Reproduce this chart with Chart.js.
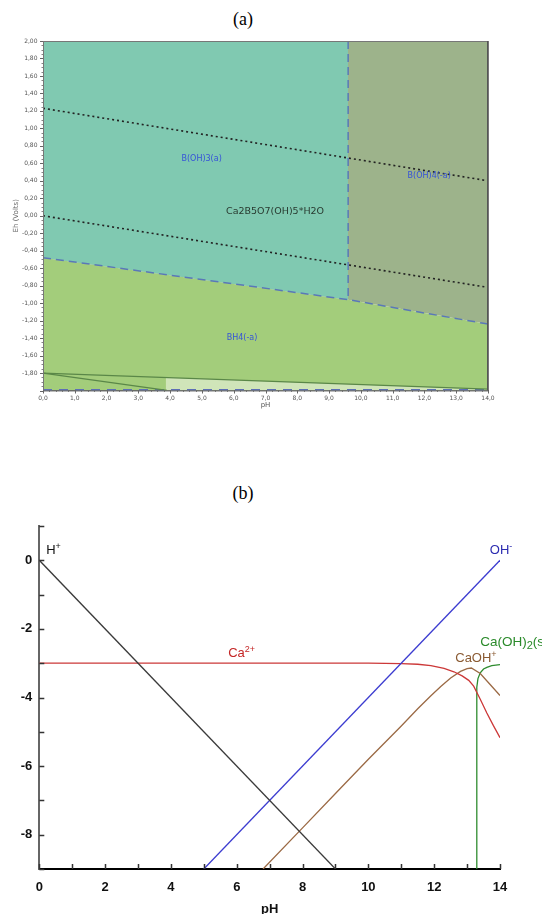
<!DOCTYPE html>
<html>
<head>
<meta charset="utf-8">
<title>Eh-pH and log C - pH diagrams</title>
<script src="https://cdn.jsdelivr.net/npm/chart.js@4.4.1/dist/chart.umd.min.js"></script>
<style>
    html, body { margin: 0; padding: 0; background: #fff; overflow: hidden; }
    body { width: 542px; height: 914px; position: relative; }
    .panel { position: absolute; left: 0; width: 542px; }
    .cap {
        position: absolute; left: 0; width: 486px; text-align: center;
        font: 18px "Liberation Serif", "Times New Roman", serif; color: #000;
    }
</style>
</head>
<body>
<div class="cap" style="top:9px">(a)</div>
<div class="panel" style="top:0;height:420px"><canvas id="chartA" width="542" height="420"></canvas></div>
<div class="cap" style="top:483px">(b)</div>
<div class="panel" style="top:474px;height:446px"><canvas id="chartB" width="542" height="446"></canvas></div>

<script>
// --- 1. Data: (a) Eh-pH diagram, boron / calcium system ---
const A_BOUND_PH = [0, 9.6, 14];          // lower edge of the borate fields
const A_BOUND_EH = [-0.48, -0.96, -1.24];
const A_ACID_PH = [0, 9.6];               // B(OH)3 field lower edge
const A_ACID_EH = [-0.48, -0.96];
const A_VERT_PH = [9.6, 9.6];             // B(OH)3 / B(OH)4- boundary
const A_VERT_EH = [2.0, -0.96];
const A_O2_PH = [0, 14];                  // water stability (upper)
const A_O2_EH = [1.23, 0.40];
const A_H2_PH = [0, 14];                  // water stability (lower)
const A_H2_EH = [0.0, -0.82];
const A_UPPER_PH = [0, 14];
const A_UPPER_EH = [-1.80, -1.985];
const A_LOWER_PH = [0, 3.9];
const A_LOWER_EH = [-1.80, -1.998];
const A_PALE_PH = [3.86, 14];
const A_PALE_EH = [-1.851, -1.985];
const A_BASE_PH = [0, 14];
const A_BASE_EH = [-1.995, -1.995];

const A_LABELS = ['B(OH)3(a)', 'B(OH)4(-a)', 'Ca2B5O7(OH)5*H2O', 'BH4(-a)'];
const A_LABEL_PH = [4.99, 12.15, 7.3, 6.26];
const A_LABEL_EH = [0.65, 0.46, 0.05, -1.40];
const A_LABEL_COLOR = ['#3553d8', '#3553d8', '#283a30', '#3553d8'];
const A_LABEL_SIZE = [8, 8, 9.5, 8];

// --- 2. Data: (b) log concentration vs pH ---
const H_PH = [0, 9];
const H_LOG = [0, -9];
const OH_PH = [5, 14];
const OH_LOG = [-9, 0];
const CA_PH = [0, 4, 8, 10, 11, 11.5, 11.9, 12.3, 12.6, 12.85, 13.05, 13.2, 13.4, 13.6, 13.8, 14];
const CA_LOG = [-3, -3, -3, -3, -3.01, -3.03, -3.07, -3.15, -3.25, -3.37, -3.5, -3.67, -4.05, -4.45, -4.82, -5.17];
const CAOH_PH = [6.8, 8, 9, 10, 11, 11.5, 11.9, 12.2, 12.5, 12.8, 13.0, 13.13, 13.4, 13.7, 14];
const CAOH_LOG = [-9, -7.8, -6.8, -5.8, -4.83, -4.33, -3.95, -3.68, -3.43, -3.24, -3.16, -3.14, -3.3, -3.62, -3.94];
const CAOH2_PH = [13.29, 13.29, 13.3, 13.33, 13.4, 13.5, 13.6, 13.75, 14];
const CAOH2_LOG = [-9, -4.2, -3.7, -3.45, -3.28, -3.17, -3.12, -3.07, -3.04];

// '^' = rest is superscript, '_' = next char is subscript
const B_LABELS = ['H^+', 'OH^-', 'Ca^2+', 'CaOH^+', 'Ca(OH)_2(s)'];
const B_LABEL_PH = [0.21, 13.69, 5.74, 12.64, 13.4];
const B_LABEL_LOG = [0.29, 0.29, -2.72, -2.86, -2.38];
const B_LABEL_COLOR = ['#111111', '#2b2bb0', '#c42626', '#8a5a32', '#2a8a2a'];
const B_LABEL_SIZE = [13, 13, 13, 13, 13.5];

const pts = (xs, ys) => xs.map((x, i) => ({ x: x, y: ys[i] }));

// --- 3. Plugins ---

// draws rich text (super/subscript) at data coordinates
function drawRich(ctx, text, px, py, size, family, color, align) {
    const parts = [];
    let i = 0, mode = 'n', buf = '';
    while (i < text.length) {
        const c = text[i];
        if (c === '^') { if (buf) parts.push([buf, mode]); buf = ''; mode = 'sup'; }
        else if (c === '_') {
            if (buf) parts.push([buf, mode]); buf = '';
            parts.push([text[i + 1], 'sub']); i++;
        } else buf += c;
        i++;
    }
    if (buf) parts.push([buf, mode]);

    const fontFor = m => (m === 'n' ? size : m === 'sub' ? Math.round(size * 0.8) : Math.round(size * 0.7)) + 'px ' + family;
    let total = 0;
    parts.forEach(p => { ctx.font = fontFor(p[1]); total += ctx.measureText(p[0]).width; });
    let x = align === 'center' ? px - total / 2 : px;
    ctx.fillStyle = color;
    ctx.textBaseline = 'middle';
    ctx.textAlign = 'left';
    parts.forEach(p => {
        ctx.font = fontFor(p[1]);
        let dy = 0;
        if (p[1] === 'sup') dy = -size * 0.3;
        if (p[1] === 'sub') dy = size * 0.3;
        ctx.fillText(p[0], x, py + dy);
        x += ctx.measureText(p[0]).width;
    });
}

const textLabels = {
    id: 'textLabels',
    afterDatasetsDraw(chart, args, opts) {
        const { ctx, scales } = chart;
        ctx.save();
        opts.items.forEach(it => {
            const px = scales.x.getPixelForValue(it.x);
            const py = scales.y.getPixelForValue(it.y);
            drawRich(ctx, it.text, px, py, it.size, it.family, it.color, it.align);
        });
        ctx.restore();
    }
};

// tick marks (inward or outward) and optional plot frame
const tickMarks = {
    id: 'tickMarks',
    afterDraw(chart, args, opts) {
        const { ctx, chartArea } = chart;
        ctx.save();
        if (opts.frame) {
            ctx.strokeStyle = opts.frame;
            ctx.lineWidth = 1;
            ctx.strokeRect(chartArea.left + 0.5, chartArea.top + 0.5,
                chartArea.right - chartArea.left - 1, chartArea.bottom - chartArea.top);
            ctx.strokeStyle = '#4a4a4a';
            ctx.lineWidth = 1.5;
            ctx.beginPath();
            ctx.moveTo(chartArea.right, chartArea.top);
            ctx.lineTo(chartArea.right, chartArea.bottom);
            ctx.stroke();
        }
        ctx.strokeStyle = opts.color;
        opts.marks.forEach(m => {
            const scale = chart.scales[m.axis];
            ctx.lineWidth = m.width;
            ctx.beginPath();
            for (let k = 0; ; k++) {
                const v = scale.min + k * m.step;
                if (v > scale.max + 1e-9) break;
                const p = Math.round(scale.getPixelForValue(v)) + 0.5;
                if (m.axis === 'x') {
                    ctx.moveTo(p, chartArea.bottom);
                    ctx.lineTo(p, chartArea.bottom + m.len);
                } else {
                    ctx.moveTo(chartArea.left, p);
                    ctx.lineTo(chartArea.left - m.len, p);
                }
            }
            ctx.stroke();
        });
        ctx.restore();
    }
};

// --- 4. Chart (a) ---
function lineSet(xs, ys, color, width, dash) {
    return {
        data: pts(xs, ys), borderColor: color, borderWidth: width,
        borderDash: dash || [], pointRadius: 0, fill: false, tension: 0
    };
}
function fillSet(xs, ys, color, target) {
    return {
        data: pts(xs, ys), borderWidth: 0, borderColor: 'transparent',
        backgroundColor: color, pointRadius: 0, fill: target, tension: 0
    };
}

const smallFont = { family: '"DejaVu Sans", Verdana, sans-serif', size: 6 };

new Chart(document.getElementById('chartA'), {
    type: 'line',
    data: {
        datasets: [
            fillSet(A_ACID_PH, A_ACID_EH, '#80c9b1', 'end'),
            fillSet(A_BOUND_PH, A_BOUND_EH, '#9db38b', 'end'),
            fillSet(A_PALE_PH, A_PALE_EH, '#d0e5b9', 'start'),
            fillSet(A_BOUND_PH, A_BOUND_EH, '#a3cd7b', 'start'),
            lineSet(A_BOUND_PH, A_BOUND_EH, '#5a78b8', 1.5, [8, 5]),
            lineSet(A_VERT_PH, A_VERT_EH, '#5a78b8', 1.5, [8, 5]),
            lineSet(A_O2_PH, A_O2_EH, '#222', 1.6, [2, 3]),
            lineSet(A_H2_PH, A_H2_EH, '#222', 1.6, [2, 3]),
            lineSet(A_UPPER_PH, A_UPPER_EH, '#5a8748', 1.2),
            lineSet(A_LOWER_PH, A_LOWER_EH, '#5a8748', 1.2),
            lineSet(A_BASE_PH, A_BASE_EH, '#5d6fb5', 2, [9, 7])
        ]
    },
    options: {
        responsive: false,
        animation: false,
        layout: { padding: { left: 0, right: 54, top: 41, bottom: 10.8 } },
        scales: {
            x: {
                type: 'linear', min: 0, max: 14,
                grid: { display: false, drawTicks: false },
                border: { display: true, color: '#555', width: 1 },
                ticks: {
                    stepSize: 1, autoSkip: false, maxRotation: 0, padding: 4,
                    color: '#555', font: smallFont,
                    callback: v => v.toFixed(1).replace('.', ',')
                },
                title: { display: true, text: 'pH', color: '#555', font: { family: smallFont.family, size: 7 }, padding: 0 },
                afterFit: s => { s.height = 18.7; }
            },
            y: {
                min: -2, max: 2,
                grid: { display: false, drawTicks: false },
                border: { display: true, color: '#888', width: 1 },
                ticks: {
                    stepSize: 0.2, autoSkip: false, padding: 5.5,
                    color: '#555', font: smallFont,
                    callback: v => {
                        if (v < -1.99) return '';
                        if (Math.abs(v) < 1e-9) return '0,00';
                        return v.toFixed(2).replace('.', ',');
                    }
                },
                title: { display: true, text: 'Eh (Volts)', color: '#666', font: { family: smallFont.family, size: 7 }, padding: { top: 11.8, bottom: 0 } },
                afterFit: s => { s.width = 43; }
            }
        },
        plugins: {
            legend: { display: false },
            tooltip: { enabled: false },
            filler: { drawTime: 'beforeDatasetsDraw' },
            tickMarks: {
                color: '#666', frame: '#777',
                marks: [
                    { axis: 'y', step: 0.2, len: 3, width: 1 },
                    { axis: 'y', step: 0.05, len: 1.5, width: 0.8 },
                    { axis: 'x', step: 1, len: 3, width: 1 },
                    { axis: 'x', step: 0.2, len: 1.5, width: 0.8 }
                ]
            },
            textLabels: {
                items: A_LABELS.map((t, i) => ({
                    text: t, x: A_LABEL_PH[i], y: A_LABEL_EH[i], color: A_LABEL_COLOR[i],
                    size: A_LABEL_SIZE[i], family: '"DejaVu Sans", Verdana, sans-serif', align: 'center'
                }))
            }
        }
    },
    plugins: [tickMarks, textLabels]
});

// --- 5. Chart (b) ---
const boldFont = { family: '"Liberation Sans", Arial, sans-serif', size: 13, weight: 'bold' };

new Chart(document.getElementById('chartB'), {
    type: 'line',
    data: {
        datasets: [
            lineSet(H_PH, H_LOG, '#3a3a3a', 1.3),
            lineSet(OH_PH, OH_LOG, '#3c3cd0', 1.3),
            lineSet(CA_PH, CA_LOG, '#cc3838', 1.3),
            lineSet(CAOH_PH, CAOH_LOG, '#9b6a45', 1.3),
            lineSet(CAOH2_PH, CAOH2_LOG, '#2e8b2e', 1.3)
        ]
    },
    options: {
        responsive: false,
        animation: false,
        layout: { padding: { left: 0, right: 42, top: 52, bottom: 3.2 } },
        scales: {
            x: {
                type: 'linear', min: 0, max: 14,
                grid: { display: false, drawTicks: false },
                border: { display: true, color: '#000', width: 2 },
                ticks: {
                    stepSize: 1, autoSkip: false, maxRotation: 0, padding: 11,
                    color: '#111', font: boldFont,
                    callback: v => (v % 2 === 0 ? String(v) : '')
                },
                title: { display: true, text: 'pH', color: '#111', font: boldFont, padding: 0 },
                afterFit: s => { s.height = 47.8; }
            },
            y: {
                min: -9, max: 1,
                grid: { display: false, drawTicks: false },
                border: { display: true, color: '#666', width: 2 },
                ticks: {
                    stepSize: 1, autoSkip: false, padding: 7,
                    color: '#111', font: boldFont,
                    callback: v => (v % 2 === 0 && v <= 0 ? String(v) : '')
                },
                afterFit: s => { s.width = 39.3; }
            }
        },
        plugins: {
            legend: { display: false },
            tooltip: { enabled: false },
            tickMarks: {
                color: '#333',
                marks: [
                    { axis: 'y', step: 1, len: -5, width: 1.5 },
                    { axis: 'x', step: 1, len: -5, width: 1.5 }
                ]
            },
            textLabels: {
                items: B_LABELS.map((t, i) => ({
                    text: t, x: B_LABEL_PH[i], y: B_LABEL_LOG[i], color: B_LABEL_COLOR[i],
                    size: B_LABEL_SIZE[i], family: '"Liberation Sans", Arial, sans-serif', align: 'left'
                }))
            }
        }
    },
    plugins: [tickMarks, textLabels]
});
</script>
</body>
</html>
